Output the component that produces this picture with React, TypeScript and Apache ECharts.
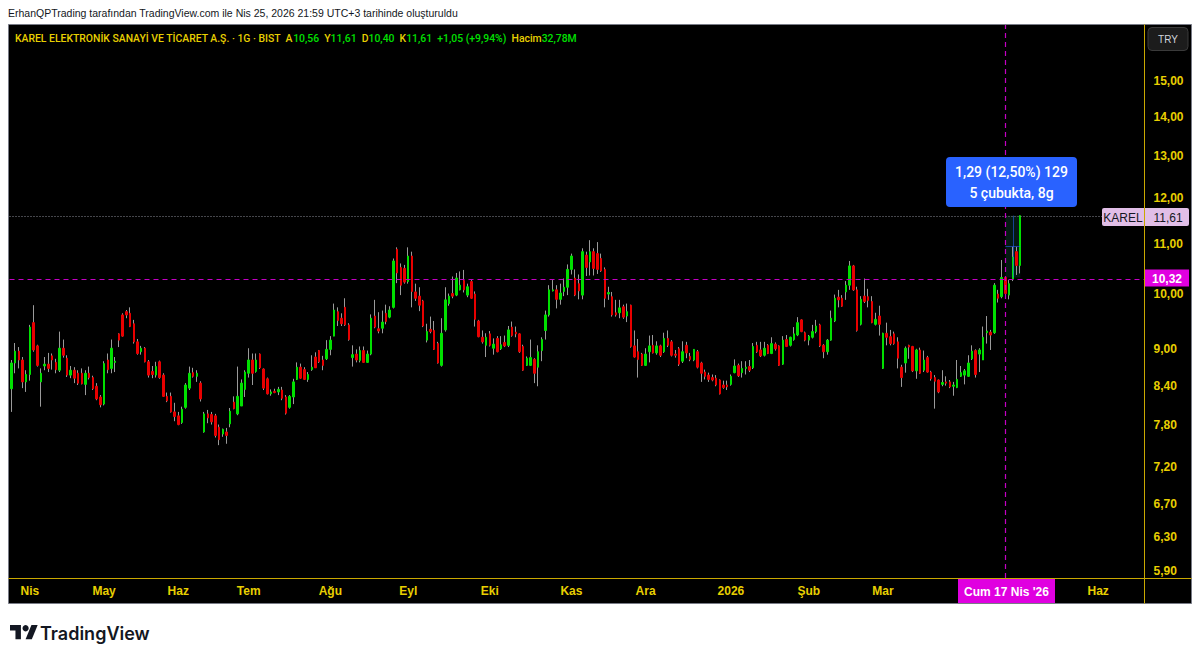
import React, { useEffect, useRef } from 'react';
import * as echarts from 'echarts';

// ---- categories (BIST trading days) ----
const START_DATE = '2025-03-24';
const SLOT_COUNT = 306; // trading days shown on the time scale (incl. empty future)
const HOLIDAYS = [
  '2025-03-31', '2025-04-01', '2025-04-23', '2025-05-01', '2025-05-19', '2025-06-06', '2025-06-09',
  '2025-07-15', '2025-10-29', '2026-01-01', '2026-03-20', '2026-04-23', '2026-05-01', '2026-05-19',
  '2026-05-27', '2026-05-28', '2026-05-29',
];
const MONTHS_TR = ['Oca', 'Şub', 'Mar', 'Nis', 'May', 'Haz', 'Tem', 'Ağu', 'Eyl', 'Eki', 'Kas', 'Ara'];

// ---- price axis ----
const Y_TICKS = [5.9, 6.3, 6.7, 7.2, 7.8, 8.4, 9, 10, 11, 12, 13, 14, 15];
const Y_MIN = 5.824;
const Y_MAX = 16.69;

// ---- OHLC (daily, KAREL) ----
const OPEN = [
  8.35, 8.77, 8.97, 8.82, 8.46, 8.58, 9.47, 9.06, 8.46, 8.72,
  8.75, 8.89, 8.78, 8.65, 9.02, 8.85, 8.57, 8.65, 8.60, 8.60,
  8.42, 8.60, 8.53, 8.39, 8.22, 8.11, 8.82, 8.68, 8.78, 9.27,
  9.61, 9.67, 9.64, 9.45, 9.13, 8.96, 9.02, 8.79, 8.63, 8.57,
  8.79, 8.57, 8.23, 8.23, 7.99, 7.93, 7.83, 8.06, 8.36, 8.61,
  8.55, 8.44, 7.69, 7.96, 7.95, 7.93, 7.76, 7.66, 7.69, 7.81,
  8.14, 7.96, 8.08, 8.34, 8.60, 8.82, 8.63, 8.92, 8.67, 8.51,
  8.27, 8.31, 8.30, 8.33, 8.22, 8.06, 8.22, 8.50, 8.70, 8.66,
  8.50, 8.66, 8.87, 8.98, 8.82, 8.84, 9.00, 9.23, 9.67, 9.55,
  9.75, 9.43, 8.86, 8.92, 8.81, 8.98, 8.78, 8.92, 9.59, 9.36,
  9.37, 9.64, 9.57, 9.75, 10.89, 10.52, 10.50, 10.24, 10.75, 10.04,
  9.96, 9.87, 9.16, 9.35, 9.33, 9.10, 8.73, 9.34, 9.82, 10.01,
  9.98, 10.08, 10.26, 9.98, 10.24, 10.00, 9.50, 9.21, 9.07, 9.27,
  9.02, 9.19, 9.01, 9.12, 9.07, 9.39, 9.30, 9.27, 9.05, 8.73,
  8.73, 8.83, 8.70, 8.98, 9.33, 9.61, 10.06, 10.08, 9.90, 10.05,
  10.13, 10.48, 10.31, 10.20, 9.98, 10.77, 10.63, 10.84, 10.80, 10.70,
  10.48, 10.00, 9.95, 9.65, 9.65, 9.76, 9.59, 9.79, 9.06, 8.96,
  8.92, 8.73, 8.96, 9.07, 8.94, 9.06, 8.96, 9.19, 9.13, 8.92,
  9.01, 8.80, 9.07, 8.88, 8.82, 8.96, 8.77, 8.62, 8.57, 8.53,
  8.52, 8.49, 8.41, 8.41, 8.42, 8.61, 8.73, 8.61, 8.68, 8.71,
  8.69, 9.07, 8.99, 8.90, 9.07, 8.93, 9.09, 9.06, 8.75, 9.17,
  9.07, 9.17, 9.25, 9.52, 9.29, 9.16, 9.21, 9.31, 9.43, 9.07,
  8.96, 9.16, 9.50, 9.94, 9.92, 10.04, 10.17, 10.55, 10.08, 9.44,
  9.96, 9.95, 9.86, 9.44, 9.59, 8.68, 9.28, 9.22, 9.27, 9.13,
  8.70, 8.77, 9.07, 9.05, 8.64, 8.99, 8.65, 8.86, 8.62, 8.53,
  8.49, 8.42, 8.46, 8.46, 8.39, 8.37, 8.55, 8.57, 8.55, 8.84,
  8.98, 8.92, 8.82, 9.29, 9.30, 9.29, 10.00, 9.95, 10.32, 9.98,
  10.29, 10.84, 10.56,
];
const HIGH = [
  8.82, 9.11, 9.04, 8.87, 8.65, 9.43, 9.79, 9.08, 8.68, 8.87,
  8.94, 8.93, 8.84, 9.31, 9.17, 8.90, 8.72, 8.70, 8.65, 8.68,
  8.65, 8.71, 8.56, 8.44, 8.25, 8.80, 8.93, 9.17, 8.87, 9.28,
  9.64, 9.70, 9.75, 9.52, 9.18, 9.06, 9.04, 8.82, 8.72, 8.79,
  8.81, 8.60, 8.29, 8.29, 8.13, 7.99, 8.07, 8.44, 8.71, 8.69,
  8.65, 8.47, 7.99, 8.02, 7.99, 7.96, 7.80, 7.74, 7.75, 8.05,
  8.23, 8.71, 8.50, 8.65, 9.02, 8.93, 8.93, 8.93, 8.68, 8.53,
  8.34, 8.35, 8.38, 8.38, 8.25, 8.25, 8.51, 8.78, 8.76, 8.70,
  8.62, 8.90, 8.95, 8.99, 8.89, 9.16, 9.23, 9.82, 9.75, 9.64,
  9.92, 9.46, 9.07, 9.00, 9.05, 9.05, 8.98, 9.62, 9.89, 9.66,
  9.69, 9.80, 9.77, 10.70, 10.93, 10.60, 10.57, 10.93, 10.84, 10.20,
  10.13, 9.89, 9.45, 9.58, 9.50, 9.13, 9.55, 10.13, 10.01, 10.34,
  10.41, 10.44, 10.47, 10.20, 10.27, 10.05, 9.52, 9.33, 9.28, 9.32,
  9.19, 9.23, 9.23, 9.24, 9.41, 9.49, 9.40, 9.28, 9.08, 8.88,
  9.17, 8.85, 9.07, 9.21, 9.69, 10.17, 10.27, 10.17, 10.20, 10.30,
  10.58, 10.80, 10.48, 10.38, 10.91, 10.84, 11.08, 10.91, 11.04, 10.80,
  10.52, 10.14, 10.04, 9.89, 9.89, 9.80, 9.82, 9.80, 9.33, 9.18,
  8.94, 9.02, 9.24, 9.25, 9.14, 9.08, 9.29, 9.33, 9.16, 8.99,
  9.04, 9.14, 9.13, 8.94, 9.00, 8.99, 8.79, 8.66, 8.61, 8.58,
  8.57, 8.50, 8.48, 8.48, 8.58, 8.83, 8.76, 8.80, 8.80, 8.82,
  9.11, 9.13, 9.13, 9.13, 9.09, 9.21, 9.12, 9.07, 9.23, 9.25,
  9.22, 9.39, 9.57, 9.53, 9.31, 9.25, 9.43, 9.52, 9.45, 9.09,
  9.18, 9.69, 9.99, 10.08, 9.98, 10.25, 10.65, 10.57, 10.14, 9.96,
  10.30, 10.10, 9.96, 9.65, 9.78, 9.29, 9.47, 9.34, 9.31, 9.21,
  8.74, 9.05, 9.08, 9.06, 9.01, 9.03, 8.98, 8.89, 8.64, 8.57,
  8.50, 8.65, 8.55, 8.49, 8.46, 8.82, 8.72, 8.67, 8.90, 9.07,
  9.00, 9.02, 9.40, 9.59, 9.34, 10.21, 10.08, 10.67, 10.34, 10.27,
  10.94, 10.94, 11.61,
];
const LOW = [
  7.99, 8.60, 8.68, 8.36, 8.30, 8.48, 8.96, 8.71, 8.07, 8.65,
  8.62, 8.66, 8.60, 8.62, 8.86, 8.54, 8.52, 8.44, 8.41, 8.42,
  8.25, 8.50, 8.33, 8.17, 8.06, 8.09, 8.60, 8.60, 8.62, 9.04,
  9.22, 9.55, 9.39, 9.10, 8.91, 8.91, 8.78, 8.53, 8.52, 8.53,
  8.51, 8.22, 8.14, 7.98, 7.85, 7.79, 7.81, 8.04, 8.33, 8.53,
  8.46, 8.15, 7.68, 7.82, 7.80, 7.61, 7.50, 7.62, 7.52, 7.76,
  8.03, 7.94, 8.08, 8.22, 8.53, 8.41, 8.61, 8.67, 8.33, 8.26,
  8.24, 8.28, 8.25, 8.17, 7.95, 8.04, 8.11, 8.49, 8.51, 8.49,
  8.46, 8.64, 8.69, 8.77, 8.65, 8.82, 8.90, 9.23, 9.41, 9.41,
  9.41, 9.15, 8.71, 8.78, 8.78, 8.77, 8.77, 8.90, 9.37, 9.28,
  9.28, 9.44, 9.55, 9.73, 10.21, 9.98, 10.20, 10.20, 9.75, 9.87,
  9.68, 9.39, 9.12, 9.28, 8.99, 8.76, 8.71, 9.31, 9.78, 9.92,
  9.96, 10.07, 10.03, 9.94, 9.91, 9.40, 9.21, 9.10, 8.87, 9.05,
  8.91, 8.95, 8.99, 9.04, 9.04, 9.22, 9.21, 8.94, 8.64, 8.72,
  8.72, 8.44, 8.39, 8.80, 9.17, 9.58, 10.05, 9.73, 9.80, 9.96,
  9.98, 10.38, 9.96, 9.90, 9.90, 10.35, 10.36, 10.36, 10.39, 10.43,
  9.75, 9.89, 9.58, 9.58, 9.55, 9.54, 9.48, 9.03, 8.86, 8.53,
  8.72, 8.72, 8.78, 8.93, 8.91, 8.87, 8.94, 9.04, 8.88, 8.86,
  8.72, 8.77, 8.85, 8.80, 8.80, 8.68, 8.46, 8.50, 8.46, 8.47,
  8.39, 8.26, 8.35, 8.33, 8.40, 8.60, 8.54, 8.53, 8.58, 8.62,
  8.67, 8.94, 8.87, 8.88, 8.92, 8.92, 8.98, 8.72, 8.74, 9.04,
  9.05, 9.15, 9.23, 9.30, 9.14, 9.07, 9.19, 9.28, 9.04, 8.85,
  8.91, 9.15, 9.48, 9.75, 9.76, 9.89, 10.08, 10.06, 9.31, 9.42,
  9.83, 9.75, 9.46, 9.42, 9.24, 8.67, 9.07, 9.07, 9.08, 8.68,
  8.38, 8.61, 8.84, 8.62, 8.51, 8.59, 8.62, 8.61, 8.48, 8.04,
  8.28, 8.39, 8.40, 8.36, 8.24, 8.36, 8.54, 8.42, 8.54, 8.82,
  8.53, 8.62, 8.82, 9.10, 8.99, 9.27, 9.84, 9.92, 9.92, 9.90,
  10.25, 10.37, 10.40,
];
const CLOSE = [
  8.77, 8.97, 8.82, 8.46, 8.58, 9.39, 8.99, 8.73, 8.60, 8.75,
  8.68, 8.82, 8.66, 9.02, 8.90, 8.57, 8.65, 8.52, 8.44, 8.43,
  8.60, 8.53, 8.35, 8.19, 8.10, 8.76, 8.66, 9.02, 8.80, 9.16,
  9.23, 9.61, 9.40, 9.13, 8.93, 9.02, 8.79, 8.57, 8.58, 8.71,
  8.53, 8.23, 8.16, 7.99, 7.92, 7.80, 8.03, 8.41, 8.60, 8.55,
  8.60, 8.19, 7.96, 7.90, 7.84, 7.64, 7.58, 7.73, 7.64, 8.00,
  8.04, 8.23, 8.44, 8.62, 8.82, 8.60, 8.82, 8.69, 8.36, 8.27,
  8.30, 8.29, 8.34, 8.20, 7.97, 8.23, 8.46, 8.70, 8.52, 8.50,
  8.58, 8.70, 8.69, 8.79, 8.73, 9.00, 9.16, 9.70, 9.51, 9.45,
  9.43, 9.17, 8.91, 8.82, 8.98, 8.78, 8.92, 9.55, 9.39, 9.32,
  9.48, 9.49, 9.70, 10.65, 10.41, 10.17, 10.23, 10.75, 10.05, 9.92,
  9.79, 9.41, 9.31, 9.31, 9.00, 8.77, 9.28, 9.89, 9.96, 9.96,
  10.31, 10.17, 10.08, 10.14, 9.92, 9.53, 9.22, 9.13, 9.21, 9.07,
  9.09, 8.96, 9.08, 9.06, 9.34, 9.24, 9.27, 8.96, 8.65, 8.85,
  8.86, 8.60, 8.96, 9.17, 9.61, 10.08, 10.08, 9.90, 10.02, 10.13,
  10.48, 10.75, 9.98, 10.06, 10.84, 10.52, 10.84, 10.50, 10.48, 10.45,
  9.92, 10.03, 9.61, 9.61, 9.74, 9.57, 9.67, 9.05, 8.87, 8.83,
  8.73, 8.92, 9.06, 8.94, 9.06, 8.90, 9.19, 9.07, 8.90, 8.90,
  8.75, 8.96, 8.94, 8.83, 9.00, 8.70, 8.60, 8.55, 8.50, 8.49,
  8.41, 8.27, 8.37, 8.38, 8.55, 8.72, 8.56, 8.68, 8.70, 8.65,
  9.05, 8.96, 8.89, 9.02, 8.93, 9.10, 9.01, 8.73, 9.16, 9.05,
  9.21, 9.27, 9.47, 9.31, 9.16, 9.23, 9.31, 9.41, 9.06, 8.96,
  9.16, 9.55, 9.92, 9.89, 9.77, 10.17, 10.55, 10.08, 9.33, 9.90,
  9.86, 9.88, 9.47, 9.53, 9.44, 9.28, 9.21, 9.10, 9.10, 8.85,
  8.53, 9.02, 9.04, 8.64, 8.99, 8.60, 8.82, 8.62, 8.51, 8.47,
  8.30, 8.45, 8.44, 8.38, 8.41, 8.50, 8.61, 8.64, 8.77, 8.97,
  8.58, 8.99, 9.21, 9.32, 9.25, 10.17, 9.92, 10.32, 10.01, 10.20,
  10.73, 10.56, 11.61,
];

const LAST_PRICE = 11.61;
const CROSS_PRICE = 10.32;
const CROSS_INDEX = 268; // Cum 17 Nis '26
const MEASURE_END = 272;
const CROSS_LABEL_HALF_SLOTS = 14; // month labels hidden under the crosshair date label

// ---- colours ----
const BG = '#000000';
const YEL = '#e8cf00';
const YEL_LINE = '#c9a800';
const GREEN = '#00e000';
const RED = '#e80000';
const WICK = '#9a9a9a';
const MAGENTA = '#e000e0';
const MAGENTA_LINE = '#c400c4';
const FONT = 'Liberation Sans, Arial, sans-serif';

function buildDays(): string[] {
  const out: string[] = [];
  const [y, m, d] = START_DATE.split('-').map(Number);
  let t = Date.UTC(y, m - 1, d);
  while (out.length < SLOT_COUNT) {
    const dt = new Date(t);
    const dow = dt.getUTCDay();
    const s = dt.toISOString().slice(0, 10);
    if (dow !== 0 && dow !== 6 && HOLIDAYS.indexOf(s) < 0) out.push(s);
    t += 86400000;
  }
  return out;
}

const fmtPrice = (p: number) => p.toFixed(2).replace('.', ',');

export default function App() {
  const ref = useRef<HTMLDivElement>(null);
  useEffect(() => {
    if (!ref.current) return;
    const chart = echarts.init(ref.current, null, { renderer: 'svg' });
    const L = Math.log;
    const days = buildDays();
    const monthStart = days.map(
      (s, i) => i > 0 && s.slice(5, 7) !== days[i - 1].slice(5, 7) && Math.abs(i - CROSS_INDEX) > CROSS_LABEL_HALF_SLOTS,
    );
    const monthLabel = (s: string) => {
      const mi = Number(s.slice(5, 7)) - 1;
      return mi === 0 ? s.slice(0, 4) : MONTHS_TR[mi];
    };

    const wickData = OPEN.map((o, i) => [L(o), L(CLOSE[i]), L(LOW[i]), L(HIGH[i])]);
    const bodyData = OPEN.map((o, i) => {
      const c = CLOSE[i];
      return [L(o), L(c), L(Math.min(o, c)), L(Math.max(o, c))];
    });
    const midMeasure = L(Math.sqrt(CROSS_PRICE * LAST_PRICE));

    const logoT = [[14, 22], [7, 22], [7, 11], [0, 11], [0, 4], [14, 4]];
    const logoSlash = [[28, 22], [20, 22], [27.5, 4], [35.5, 4]];
    const lx = (u: number) => 10 + u * 0.78;
    const ly = (v: number) => 622 + v * 0.78;
    const center = { textAlign: 'center', align: 'center', textVerticalAlign: 'middle', verticalAlign: 'middle' };
    const HEADER_FONT = { fontSize: 10.4, fontWeight: 500, fontFamily: 'Roboto, ' + FONT };

    const option: any = {
      animation: false,
      backgroundColor: '#ffffff',
      grid: { left: 9.5, top: 25, width: 1135, height: 553, containLabel: false },
      xAxis: {
        type: 'category',
        data: days,
        boundaryGap: true,
        axisLine: { show: false },
        axisTick: { show: false },
        splitLine: { show: false },
        axisLabel: {
          interval: (idx: number) => monthStart[idx],
          formatter: (v: string) => monthLabel(v),
          color: YEL,
          fontSize: 12,
          fontWeight: 'bold',
          fontFamily: FONT,
          margin: 7,
        },
      },
      yAxis: {
        type: 'value',
        position: 'right',
        min: L(Y_MIN),
        max: L(Y_MAX),
        axisLine: { show: false },
        axisTick: { show: false },
        splitLine: { show: false },
        axisLabel: {
          customValues: Y_TICKS.map((v) => L(v)),
          formatter: (v: number) => fmtPrice(Math.exp(v)),
          color: YEL,
          fontSize: 12,
          fontWeight: 'bold',
          fontFamily: FONT,
          margin: 9,
          align: 'left',
        },
      },
      series: [
        {
          type: 'candlestick',
          name: 'wick',
          data: wickData,
          barWidth: 1,
          silent: true,
          itemStyle: { color: WICK, color0: WICK, borderColor: WICK, borderColor0: WICK, borderWidth: 1 },
          z: 2,
        },
        {
          type: 'candlestick',
          name: 'KAREL',
          data: bodyData,
          barWidth: 2,
          silent: true,
          itemStyle: { color: GREEN, color0: RED, borderColor: GREEN, borderColor0: RED, borderWidth: 1 },
          z: 3,
          markArea: {
            silent: true,
            itemStyle: { color: 'rgba(20,120,80,0.22)' },
            data: [[
              { xAxis: days[CROSS_INDEX], yAxis: L(CROSS_PRICE) },
              { xAxis: days[MEASURE_END], yAxis: L(LAST_PRICE) },
            ]],
          },
          markLine: {
            silent: true,
            symbol: ['none', 'none'],
            label: { show: false },
            data: [
              { yAxis: L(LAST_PRICE), lineStyle: { color: '#8a8d96', type: [1, 2], width: 1 } },
              { yAxis: L(CROSS_PRICE), lineStyle: { color: MAGENTA_LINE, type: [5, 4], width: 1.2 } },
              { xAxis: days[CROSS_INDEX], lineStyle: { color: MAGENTA_LINE, type: [5, 4], width: 1.2 } },
              [
                { coord: [days[CROSS_INDEX + 2], L(CROSS_PRICE)], lineStyle: { color: 'rgba(41,98,255,0.55)', type: 'solid', width: 1 } },
                { coord: [days[CROSS_INDEX + 2], L(LAST_PRICE)] },
              ],
              [
                { coord: [days[CROSS_INDEX], midMeasure], lineStyle: { color: 'rgba(41,98,255,0.55)', type: 'solid', width: 1 } },
                { coord: [days[MEASURE_END], midMeasure] },
              ],
            ],
          },
        },
      ],
      graphic: [
        // chart panel background
        { type: 'rect', z: -10, silent: true, shape: { x: 8.5, y: 24.5, width: 1183, height: 579 }, style: { fill: BG, stroke: '#787b86', lineWidth: 1 } },
        // axis separator lines
        { type: 'line', z: 50, silent: true, shape: { x1: 8.5, y1: 578.5, x2: 1191.5, y2: 578.5 }, style: { stroke: YEL_LINE, lineWidth: 1 } },
        { type: 'line', z: 50, silent: true, shape: { x1: 1144.5, y1: 24.5, x2: 1144.5, y2: 603.5 }, style: { stroke: YEL_LINE, lineWidth: 1 } },
        // caption above chart
        {
          type: 'text', z: 100, x: 8, y: 13,
          style: { text: 'ErhanQPTrading tarafından TradingView.com ile Nis 25, 2026 21:59 UTC+3 tarihinde oluşturuldu', fill: '#131722', font: `10.5px ${FONT}`, textVerticalAlign: 'middle', verticalAlign: 'middle' },
        },
        // legend header
        {
          type: 'text', z: 100, x: 15, y: 38,
          style: {
            text: '{y|KAREL ELEKTRONİK SANAYİ VE TİCARET A.Ş. · 1G · BIST  A}{g|10,56}{y|  Y}{g|11,61}{y|  D}{g|10,40}{y|  K}{g|11,61}{g|  +1,05 (+9,94%)}{y|  Hacim}{g|32,78M}',
            textVerticalAlign: 'middle', verticalAlign: 'middle',
            rich: {
              y: { fill: YEL, ...HEADER_FONT },
              g: { fill: GREEN, ...HEADER_FONT },
            },
          },
        },
        // currency button
        { type: 'rect', z: 100, shape: { x: 1148, y: 27.5, width: 40, height: 23, r: 4 }, style: { fill: '#1c1c1c', stroke: '#3a3a3a', lineWidth: 1 } },
        { type: 'text', z: 101, x: 1168, y: 39.5, style: { text: 'TRY', fill: '#d1d4dc', font: `10px ${FONT}`, ...center } },
        // last price label
        { type: 'rect', z: 100, shape: { x: 1102, y: 208, width: 87, height: 18, r: 2 }, style: { fill: '#e1bee7' } },
        { type: 'line', z: 101, shape: { x1: 1144.5, y1: 208, x2: 1144.5, y2: 226 }, style: { stroke: YEL_LINE, lineWidth: 1 } },
        { type: 'text', z: 101, x: 1123, y: 217.5, style: { text: 'KAREL', fill: '#131722', font: `12px ${FONT}`, ...center } },
        { type: 'text', z: 101, x: 1168, y: 217.5, style: { text: fmtPrice(LAST_PRICE), fill: '#131722', font: `12px ${FONT}`, ...center } },
        // crosshair price label
        { type: 'rect', z: 100, shape: { x: 1145, y: 269.5, width: 44, height: 17 }, style: { fill: MAGENTA } },
        { type: 'text', z: 101, x: 1167, y: 278.5, style: { text: fmtPrice(CROSS_PRICE), fill: '#ffffff', font: `bold 12px ${FONT}`, ...center } },
        // crosshair date label
        { type: 'rect', z: 100, shape: { x: 958, y: 579, width: 97, height: 24 }, style: { fill: MAGENTA } },
        { type: 'text', z: 101, x: 1006.5, y: 591.5, style: { text: "Cum 17 Nis '26", fill: '#ffffff', font: `bold 12px ${FONT}`, ...center } },
        // measure box
        { type: 'rect', z: 100, shape: { x: 946, y: 157, width: 131, height: 50, r: 4 }, style: { fill: '#2962ff' } },
        { type: 'text', z: 101, x: 1011.5, y: 171.5, style: { text: '1,29 (12,50%) 129', fill: '#ffffff', font: `500 14px Roboto, ${FONT}`, ...center } },
        { type: 'text', z: 101, x: 1011.5, y: 192.5, style: { text: '5 çubukta, 8g', fill: '#ffffff', font: `500 14px Roboto, ${FONT}`, ...center } },
        // TradingView logo
        { type: 'polygon', z: 100, shape: { points: logoT.map(([u, v]) => [lx(u), ly(v)]) }, style: { fill: '#131722' } },
        { type: 'polygon', z: 100, shape: { points: logoSlash.map(([u, v]) => [lx(u), ly(v)]) }, style: { fill: '#131722' } },
        { type: 'circle', z: 100, shape: { cx: lx(20), cy: ly(8), r: 4 * 0.78 }, style: { fill: '#131722' } },
        { type: 'text', z: 100, x: 40, y: 633, style: { text: 'TradingView', fill: '#131722', font: `600 18px Inter, ${FONT}`, textVerticalAlign: 'middle', verticalAlign: 'middle' } },
      ],
    };
    chart.setOption(option);
    return () => chart.dispose();
  }, []);
  return <div ref={ref} style={{ position: 'fixed', left: 0, top: 0, width: 1200, height: 659 }} />;
}
